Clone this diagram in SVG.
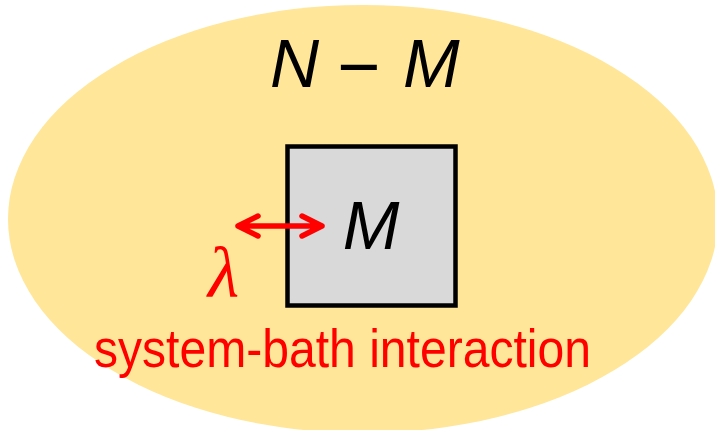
<svg xmlns="http://www.w3.org/2000/svg" width="715" height="430" viewBox="0 0 715 430">
<style>
.lbl{font-family:"Liberation Sans",Arial,sans-serif;font-style:italic;font-size:68px;fill:#000}
.red{fill:#FF0000}
.conn{stroke:#FF0000;stroke-width:5.5;fill:none;stroke-linecap:round;stroke-linejoin:round}
</style>
<rect width="715" height="430" fill="#fff"/>
<g id="bath">
<ellipse cx="363" cy="219" rx="355" ry="214" fill="#FFE699"/>
<text class="lbl" y="87"><tspan x="270">N</tspan><tspan x="337" y="92" font-style="normal" font-size="74">−</tspan><tspan x="403" y="87">M</tspan></text>
</g>
<g id="system">
<rect x="287.5" y="146.5" width="168" height="159" fill="#D9D9D9" stroke="#000" stroke-width="4.5"/>
<text class="lbl" x="371" y="249" text-anchor="middle">M</text>
</g>
<g id="connectors">
<path class="conn" d="M238 226 H322 M258 216 L238 226 L258 236 M302 216 L322 226 L302 236"/>
</g>
<g id="labels">
<text x="208" y="297" font-family="'Liberation Serif',serif" font-style="italic" font-size="72" class="red">λ</text>
<text x="94" y="367" font-family="'Liberation Sans',Arial,sans-serif" font-size="54" textLength="497" lengthAdjust="spacingAndGlyphs" class="red">system-bath interaction</text>
</g>
</svg>
